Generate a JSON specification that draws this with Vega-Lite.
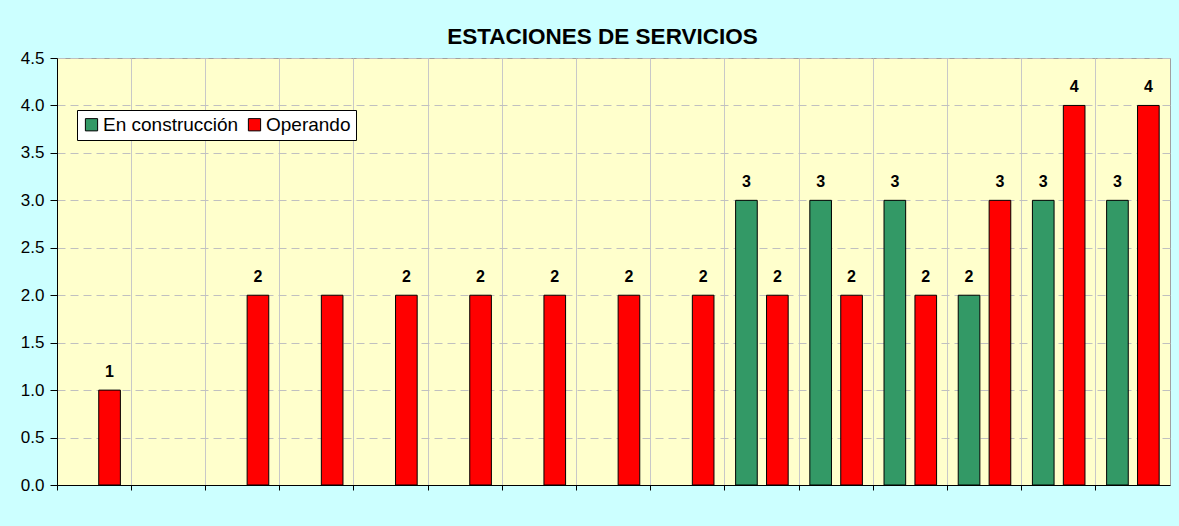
{
  "$schema": "https://vega.github.io/schema/vega-lite/v6.json",
  "autosize": {"type": "none"},
  "width": 1113,
  "height": 427,
  "padding": {"left": 57, "top": 58, "right": 9, "bottom": 41},
  "background": "#CCFFFF",
  "title": {
    "text": "ESTACIONES DE SERVICIOS",
    "font": "Liberation Sans",
    "fontSize": 22.5,
    "fontWeight": "bold",
    "color": "black",
    "anchor": "middle",
    "dx": -11,
    "dy": 30,
    "baseline": "alphabetic",
    "offset": 13
  },
  "config": {
    "font": "Liberation Sans",
    "view": {"fill": "#FFFFCC", "stroke": "#A0A0A0", "strokeWidth": 1}
  },
  "data": {
    "values": [
      {"grupo": 1, "serie": "En construcción", "valor": null, "etiqueta": null},
      {"grupo": 1, "serie": "Operando", "valor": 1, "etiqueta": "1"},
      {"grupo": 2, "serie": "En construcción", "valor": null, "etiqueta": null},
      {"grupo": 2, "serie": "Operando", "valor": null, "etiqueta": null},
      {"grupo": 3, "serie": "En construcción", "valor": null, "etiqueta": null},
      {"grupo": 3, "serie": "Operando", "valor": 2, "etiqueta": "2"},
      {"grupo": 4, "serie": "En construcción", "valor": null, "etiqueta": null},
      {"grupo": 4, "serie": "Operando", "valor": 2, "etiqueta": null},
      {"grupo": 5, "serie": "En construcción", "valor": null, "etiqueta": null},
      {"grupo": 5, "serie": "Operando", "valor": 2, "etiqueta": "2"},
      {"grupo": 6, "serie": "En construcción", "valor": null, "etiqueta": null},
      {"grupo": 6, "serie": "Operando", "valor": 2, "etiqueta": "2"},
      {"grupo": 7, "serie": "En construcción", "valor": null, "etiqueta": null},
      {"grupo": 7, "serie": "Operando", "valor": 2, "etiqueta": "2"},
      {"grupo": 8, "serie": "En construcción", "valor": null, "etiqueta": null},
      {"grupo": 8, "serie": "Operando", "valor": 2, "etiqueta": "2"},
      {"grupo": 9, "serie": "En construcción", "valor": null, "etiqueta": null},
      {"grupo": 9, "serie": "Operando", "valor": 2, "etiqueta": "2"},
      {"grupo": 10, "serie": "En construcción", "valor": 3, "etiqueta": "3"},
      {"grupo": 10, "serie": "Operando", "valor": 2, "etiqueta": "2"},
      {"grupo": 11, "serie": "En construcción", "valor": 3, "etiqueta": "3"},
      {"grupo": 11, "serie": "Operando", "valor": 2, "etiqueta": "2"},
      {"grupo": 12, "serie": "En construcción", "valor": 3, "etiqueta": "3"},
      {"grupo": 12, "serie": "Operando", "valor": 2, "etiqueta": "2"},
      {"grupo": 13, "serie": "En construcción", "valor": 2, "etiqueta": "2"},
      {"grupo": 13, "serie": "Operando", "valor": 3, "etiqueta": "3"},
      {"grupo": 14, "serie": "En construcción", "valor": 3, "etiqueta": "3"},
      {"grupo": 14, "serie": "Operando", "valor": 4, "etiqueta": "4"},
      {"grupo": 15, "serie": "En construcción", "valor": 3, "etiqueta": "3"},
      {"grupo": 15, "serie": "Operando", "valor": 4, "etiqueta": "4"}
    ]
  },
  "encoding": {
    "x": {
      "field": "grupo",
      "type": "ordinal",
      "scale": {"domain": [1, 2, 3, 4, 5, 6, 7, 8, 9, 10, 11, 12, 13, 14, 15], "paddingInner": 0, "paddingOuter": 0},
      "axis": {
        "title": null,
        "labels": false,
        "domainColor": "black",
        "tickColor": "black",
        "tickSize": 5,
        "bandPosition": 0,
        "grid": true,
        "gridColor": "#C8C8C8",
        "gridWidth": 1
      }
    },
    "xOffset": {
      "field": "serie",
      "type": "nominal",
      "scale": {"domain": ["En construcción", "Operando"], "paddingInner": 0.3, "paddingOuter": 0.35}
    },
    "y": {
      "field": "valor",
      "type": "quantitative",
      "scale": {"domain": [0, 4.5], "nice": false},
      "axis": {
        "title": null,
        "values": [0, 0.5, 1, 1.5, 2, 2.5, 3, 3.5, 4, 4.5],
        "format": ".1f",
        "labelFontSize": 17,
        "labelColor": "black",
        "labelPadding": 6,
        "domainColor": "black",
        "tickColor": "black",
        "tickSize": 7,
        "grid": true,
        "gridColor": "#C0C0C0",
        "gridDash": [8, 5],
        "gridWidth": 1
      }
    }
  },
  "layer": [
    {
      "mark": {"type": "bar", "stroke": "black", "strokeWidth": 1},
      "encoding": {
        "color": {
          "field": "serie",
          "type": "nominal",
          "scale": {"domain": ["En construcción", "Operando"], "range": ["#339966", "#FF0000"]},
          "legend": {
            "title": null,
            "orient": "none",
            "legendX": 20,
            "legendY": 52,
            "direction": "horizontal",
            "fillColor": "white",
            "strokeColor": "black",
            "padding": 5,
            "symbolType": "square",
            "symbolSize": 150,
            "symbolStrokeColor": "black",
            "symbolStrokeWidth": 1,
            "symbolOpacity": 1,
            "labelFontSize": 19,
            "labelColor": "black",
            "labelOffset": 2,
            "columnPadding": 6
          }
        }
      }
    },
    {
      "transform": [{"filter": "datum.etiqueta != null"}],
      "mark": {"type": "text", "fontWeight": "bold", "fontSize": 16, "color": "black", "baseline": "alphabetic", "dy": -13},
      "encoding": {
        "text": {"field": "etiqueta", "type": "nominal"}
      }
    }
  ]
}
